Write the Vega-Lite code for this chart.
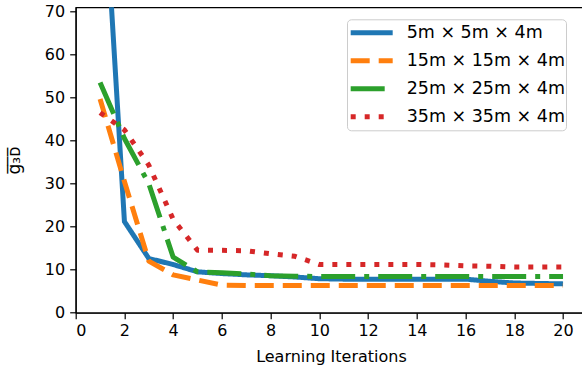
{
  "$schema": "https://vega.github.io/schema/vega-lite/v6.json",
  "autosize": {"type": "none"},
  "padding": {"left": 75.7, "top": 7.3, "right": 0, "bottom": 60.3},
  "width": 510.5,
  "height": 305.4,
  "background": "white",
  "config": {
    "view": {"stroke": "black", "strokeWidth": 1.2},
    "font": "DejaVu Sans",
    "axis": {
      "labelFont": "DejaVu Sans",
      "titleFont": "DejaVu Sans",
      "labelFontSize": 16,
      "titleFontSize": 16,
      "titleFontWeight": "normal",
      "labelColor": "#000000",
      "titleColor": "#000000",
      "domainColor": "#000000",
      "domainWidth": 1.2,
      "tickColor": "#000000",
      "tickWidth": 1.2,
      "tickSize": 6,
      "grid": false
    }
  },
  "data": {
    "values": [
      {"x": 1, "v": 115, "s": "5m × 5m × 4m"},
      {"x": 2, "v": 21.2, "s": "5m × 5m × 4m"},
      {"x": 3, "v": 12.6, "s": "5m × 5m × 4m"},
      {"x": 4, "v": 11.2, "s": "5m × 5m × 4m"},
      {"x": 5, "v": 9.5, "s": "5m × 5m × 4m"},
      {"x": 6, "v": 9.1, "s": "5m × 5m × 4m"},
      {"x": 7, "v": 8.8, "s": "5m × 5m × 4m"},
      {"x": 8, "v": 8.6, "s": "5m × 5m × 4m"},
      {"x": 9, "v": 8.3, "s": "5m × 5m × 4m"},
      {"x": 10, "v": 7.9, "s": "5m × 5m × 4m"},
      {"x": 11, "v": 7.8, "s": "5m × 5m × 4m"},
      {"x": 12, "v": 7.8, "s": "5m × 5m × 4m"},
      {"x": 13, "v": 7.8, "s": "5m × 5m × 4m"},
      {"x": 14, "v": 7.8, "s": "5m × 5m × 4m"},
      {"x": 15, "v": 7.8, "s": "5m × 5m × 4m"},
      {"x": 16, "v": 7.8, "s": "5m × 5m × 4m"},
      {"x": 17, "v": 7.3, "s": "5m × 5m × 4m"},
      {"x": 18, "v": 6.9, "s": "5m × 5m × 4m"},
      {"x": 19, "v": 6.8, "s": "5m × 5m × 4m"},
      {"x": 20, "v": 6.7, "s": "5m × 5m × 4m"},
      {"x": 1, "v": 49.7, "s": "15m × 15m × 4m"},
      {"x": 2, "v": 30.5, "s": "15m × 15m × 4m"},
      {"x": 3, "v": 12, "s": "15m × 15m × 4m"},
      {"x": 4, "v": 8.8, "s": "15m × 15m × 4m"},
      {"x": 5, "v": 7.6, "s": "15m × 15m × 4m"},
      {"x": 6, "v": 6.4, "s": "15m × 15m × 4m"},
      {"x": 7, "v": 6.3, "s": "15m × 15m × 4m"},
      {"x": 8, "v": 6.3, "s": "15m × 15m × 4m"},
      {"x": 9, "v": 6.3, "s": "15m × 15m × 4m"},
      {"x": 10, "v": 6.3, "s": "15m × 15m × 4m"},
      {"x": 11, "v": 6.3, "s": "15m × 15m × 4m"},
      {"x": 12, "v": 6.3, "s": "15m × 15m × 4m"},
      {"x": 13, "v": 6.3, "s": "15m × 15m × 4m"},
      {"x": 14, "v": 6.3, "s": "15m × 15m × 4m"},
      {"x": 15, "v": 6.3, "s": "15m × 15m × 4m"},
      {"x": 16, "v": 6.3, "s": "15m × 15m × 4m"},
      {"x": 17, "v": 6.3, "s": "15m × 15m × 4m"},
      {"x": 18, "v": 6.3, "s": "15m × 15m × 4m"},
      {"x": 19, "v": 6.3, "s": "15m × 15m × 4m"},
      {"x": 20, "v": 6.3, "s": "15m × 15m × 4m"},
      {"x": 1, "v": 53.5, "s": "25m × 25m × 4m"},
      {"x": 2, "v": 40.5, "s": "25m × 25m × 4m"},
      {"x": 3, "v": 30, "s": "25m × 25m × 4m"},
      {"x": 4, "v": 12.9, "s": "25m × 25m × 4m"},
      {"x": 5, "v": 9.5, "s": "25m × 25m × 4m"},
      {"x": 6, "v": 9.3, "s": "25m × 25m × 4m"},
      {"x": 7, "v": 9.0, "s": "25m × 25m × 4m"},
      {"x": 8, "v": 8.6, "s": "25m × 25m × 4m"},
      {"x": 9, "v": 8.5, "s": "25m × 25m × 4m"},
      {"x": 10, "v": 8.4, "s": "25m × 25m × 4m"},
      {"x": 11, "v": 8.4, "s": "25m × 25m × 4m"},
      {"x": 12, "v": 8.4, "s": "25m × 25m × 4m"},
      {"x": 13, "v": 8.4, "s": "25m × 25m × 4m"},
      {"x": 14, "v": 8.4, "s": "25m × 25m × 4m"},
      {"x": 15, "v": 8.4, "s": "25m × 25m × 4m"},
      {"x": 16, "v": 8.4, "s": "25m × 25m × 4m"},
      {"x": 17, "v": 8.4, "s": "25m × 25m × 4m"},
      {"x": 18, "v": 8.4, "s": "25m × 25m × 4m"},
      {"x": 19, "v": 8.4, "s": "25m × 25m × 4m"},
      {"x": 20, "v": 8.4, "s": "25m × 25m × 4m"},
      {"x": 1, "v": 46.5, "s": "35m × 35m × 4m"},
      {"x": 2, "v": 42.5, "s": "35m × 35m × 4m"},
      {"x": 3, "v": 34.3, "s": "35m × 35m × 4m"},
      {"x": 4, "v": 21.7, "s": "35m × 35m × 4m"},
      {"x": 5, "v": 14.5, "s": "35m × 35m × 4m"},
      {"x": 6, "v": 14.5, "s": "35m × 35m × 4m"},
      {"x": 7, "v": 14.4, "s": "35m × 35m × 4m"},
      {"x": 8, "v": 13.7, "s": "35m × 35m × 4m"},
      {"x": 9, "v": 13.1, "s": "35m × 35m × 4m"},
      {"x": 10, "v": 11.2, "s": "35m × 35m × 4m"},
      {"x": 11, "v": 11.2, "s": "35m × 35m × 4m"},
      {"x": 12, "v": 11.2, "s": "35m × 35m × 4m"},
      {"x": 13, "v": 11.2, "s": "35m × 35m × 4m"},
      {"x": 14, "v": 11.2, "s": "35m × 35m × 4m"},
      {"x": 15, "v": 11.1, "s": "35m × 35m × 4m"},
      {"x": 16, "v": 10.9, "s": "35m × 35m × 4m"},
      {"x": 17, "v": 10.8, "s": "35m × 35m × 4m"},
      {"x": 18, "v": 10.6, "s": "35m × 35m × 4m"},
      {"x": 19, "v": 10.6, "s": "35m × 35m × 4m"},
      {"x": 20, "v": 10.6, "s": "35m × 35m × 4m"}
    ]
  },
  "mark": {"type": "line", "clip": true, "strokeWidth": 5, "strokeCap": "butt", "strokeJoin": "round"},
  "encoding": {
    "x": {
      "field": "x", "type": "quantitative",
      "scale": {"domain": [0, 20.95], "nice": false, "zero": false},
      "axis": {"values": [0, 2, 4, 6, 8, 10, 12, 14, 16, 18, 20], "title": "Learning Iterations", "labelPadding": 4, "titlePadding": 10}
    },
    "y": {
      "field": "v", "type": "quantitative",
      "scale": {"domain": [0, 71], "nice": false},
      "axis": {"values": [0, 10, 20, 30, 40, 50, 60, 70], "title": "g̅₃̅ᴅ̅", "titleFontSize": 17, "labelPadding": 5, "titlePadding": 21}
    },
    "color": {
      "field": "s", "type": "nominal",
      "scale": {
        "domain": ["5m × 5m × 4m", "15m × 15m × 4m", "25m × 25m × 4m", "35m × 35m × 4m"],
        "range": ["#1f77b4", "#ff7f0e", "#2ca02c", "#d62728"]
      },
      "legend": {
        "title": null,
        "orient": "none",
        "legendX": 271.3,
        "legendY": 12,
        "fillColor": "white",
        "strokeColor": "#cccccc",
        "cornerRadius": 4,
        "padding": 0,
        "clipHeight": 26.8,
        "symbolType": "stroke",
        "symbolSize": 1764,
        "symbolStrokeWidth": 5,
        "symbolOffset": 1.2,
        "labelFont": "DejaVu Sans",
        "labelFontSize": 17.5,
        "labelColor": "#000000",
        "labelOffset": 11.5,
        "labelExpr": "datum.label + '  '",
        "rowPadding": 1
      }
    },
    "strokeDash": {
      "field": "s", "type": "nominal",
      "scale": {
        "domain": ["5m × 5m × 4m", "15m × 15m × 4m", "25m × 25m × 4m", "35m × 35m × 4m"],
        "range": [[1, 0], [19, 9], [34, 9, 5, 9], [5, 9]]
      },
      "legend": {
        "title": null,
        "orient": "none",
        "legendX": 271.3,
        "legendY": 12
      }
    }
  }
}
